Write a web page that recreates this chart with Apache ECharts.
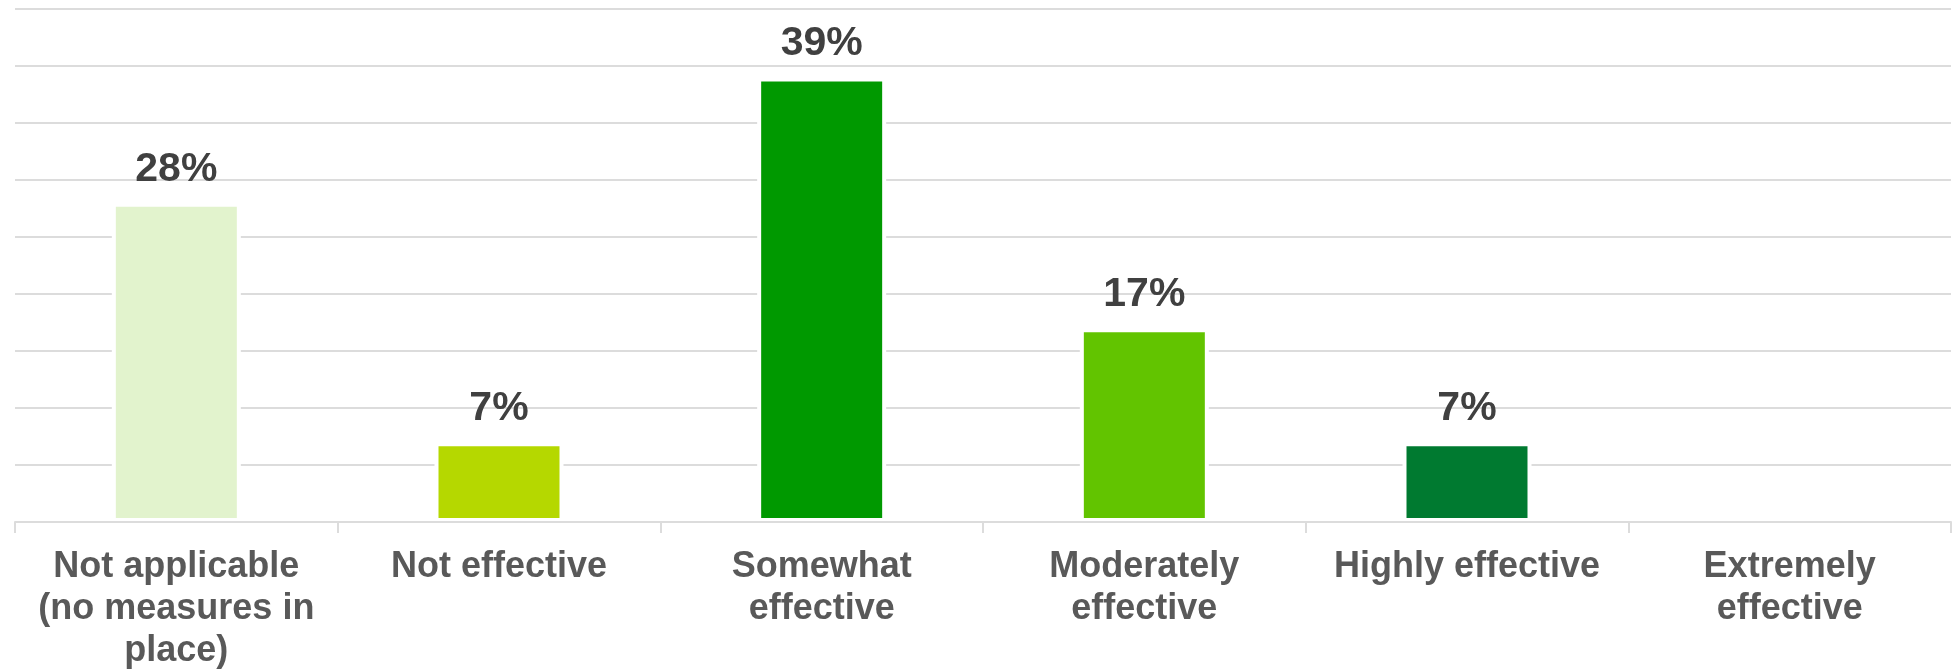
<!DOCTYPE html>
<html>
<head>
<meta charset="utf-8">
<style>
  html, body { margin: 0; padding: 0; background: #fff; }
  #chart { width: 1957px; height: 672px; }
</style>
<script src="https://cdn.jsdelivr.net/npm/echarts@6/dist/echarts.min.js"></script>
</head>
<body>
<div id="chart"></div>
<script>
const categories = [
  'Not applicable\n(no measures in\nplace)',
  'Not effective',
  'Somewhat\neffective',
  'Moderately\neffective',
  'Highly effective',
  'Extremely\neffective',
];
const values = [28, 7, 39, 17, 7, 0];
const barColors = ['#e2f3cd', '#b5d800', '#009900', '#62c400', '#007a30', '#007a30'];

const fontFamily = '"Liberation Sans", Arial, sans-serif';
const gridColor = '#dcdcdc';

const chart = echarts.init(document.getElementById('chart'));

chart.setOption({
  animation: false,
  grid: {
    left: 15,
    right: 6,
    top: 9,
    bottom: 150,
    outerBoundsMode: 'none',
    containLabel: false,
  },
  xAxis: {
    type: 'category',
    data: categories,
    z: 3,
    axisLine: {
      lineStyle: { color: gridColor, width: 2 },
    },
    axisTick: {
      show: true,
      length: 11,
      lineStyle: { color: gridColor, width: 2 },
    },
    axisLabel: {
      interval: 0,
      margin: 24,
      color: '#595959',
      fontFamily,
      fontWeight: 'bold',
      fontSize: 36,
      lineHeight: 42,
    },
  },
  yAxis: {
    type: 'value',
    min: 0,
    max: 45,
    interval: 5,
    axisLine: { show: false },
    axisTick: { show: false },
    axisLabel: { show: false },
    splitLine: {
      lineStyle: { color: gridColor, width: 2 },
    },
  },
  series: [
    {
      type: 'bar',
      barWidth: 129,
      data: values.map((v, i) => ({
        value: v,
        itemStyle: { color: barColors[i] },
        label: { show: v > 0 },
      })),
      itemStyle: {
        borderColor: '#ffffff',
        borderWidth: 4,
      },
      label: {
        position: 'top',
        distance: 13,
        formatter: '{c}%',
        color: '#404040',
        fontFamily,
        fontWeight: 'bold',
        fontSize: 41,
      },
    },
  ],
});

window.addEventListener('resize', () => chart.resize());
</script>
</body>
</html>
